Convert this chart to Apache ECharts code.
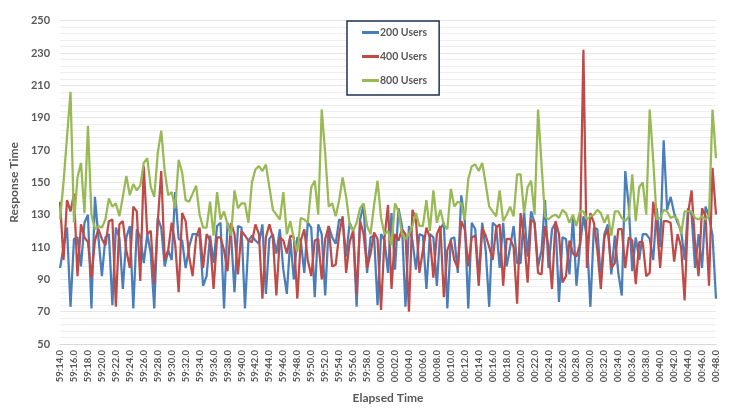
<!DOCTYPE html>
<html>
<head>
<meta charset="utf-8">
<script src="https://cdn.jsdelivr.net/npm/echarts@6/dist/echarts.min.js"></script>
<style>
  html, body { margin: 0; padding: 0; background: #fff; }
  #chart { width: 736px; height: 412px; }
</style>
</head>
<body>
<div id="chart"></div>
<script>
// Category timestamps: one sample every 0.5 s from 59:14.0 to 00:48.0
const startSeconds = 59 * 60 + 14;
const sampleCount = 189;
const categories = [];
for (let i = 0; i < sampleCount; i++) {
  const t = (startSeconds + i * 0.5) % 3600;
  const m = Math.floor(t / 60);
  const s = t - m * 60;
  categories.push(String(m).padStart(2, '0') + ':' + (s < 10 ? '0' : '') + s.toFixed(1));
}

const seriesNames = ['200 Users', '400 Users', '800 Users'];

const users200 = [
  97, 110, 122, 73, 115, 116, 98, 125, 130, 72,
  141, 116, 92, 116, 118, 74, 122, 116, 84, 116,
  123, 72, 121, 116, 100, 118, 106, 72, 128, 122,
  98, 108, 102, 144, 115, 114, 97, 110,
  118, 118, 117, 86, 92, 117, 100, 123, 125, 72,
  125, 118, 82, 123, 122, 72, 114, 117, 114, 112,
  124, 81, 115, 118, 106, 121, 96, 81, 115, 90,
  116, 114, 94, 125, 122, 79, 124,
  118, 80, 123, 116, 112, 127, 126, 104, 125, 120,
  73, 127, 136, 94, 116, 117, 74, 118, 114, 94,
  131, 96, 134, 123, 73, 123, 114, 96, 118, 117,
  84, 118, 116, 86, 121, 125, 72,
  115, 116, 94, 142, 126, 72, 125, 121, 91, 125,
  108, 73, 125, 123, 97, 125, 98, 110, 123, 100,
  100, 132, 104, 132, 125, 98, 108, 139, 97, 121,
  125, 76, 116, 115, 93, 129,
  86, 110, 129, 116, 73,
  122, 121, 90, 118, 124, 93, 117, 94, 80, 157,
  135, 95, 116, 102, 118, 118, 115, 102, 134, 110,
  176, 133, 141, 131, 125, 120, 102, 134, 130, 97,
  118, 97, 135, 129, 117, 78
];

const users400 = [
  138, 102, 139, 132, 143, 92, 124, 116, 113, 91,
  114, 121, 115, 111, 126, 127, 73, 124, 126, 108,
  97, 135, 132, 89, 160, 118, 120, 87, 125, 157,
  102, 108, 125, 112, 82, 131, 126, 104,
  92, 116, 122, 97, 118, 114, 84, 116, 116, 108,
  95, 125, 118, 93, 120, 117, 114, 113, 124, 118,
  78, 116, 124, 116, 80, 116, 114, 106, 117, 116,
  78, 114, 121, 102, 92, 114, 115,
  90, 115, 123, 98, 99, 118, 129, 94, 113, 120,
  81, 126, 118, 97, 106, 119, 115, 71, 116, 136,
  84, 118, 114, 121, 118, 70, 133, 127, 94, 108,
  122, 116, 91, 118, 123, 79, 108,
  114, 102, 97, 126, 121, 98, 116, 117, 86, 122,
  117, 110, 102, 122, 124, 86, 115, 115, 110, 75,
  131, 116, 88, 127, 125, 94, 93, 123, 110, 84,
  126, 118, 88, 92, 114, 106,
  104, 112, 232, 97, 131,
  125, 108, 84, 116, 121, 97, 100, 121, 121, 97,
  116, 114, 87, 113, 113, 92, 94, 138, 125, 97,
  126, 126, 125, 101, 118, 110, 77, 131, 145, 112,
  92, 134, 129, 86, 159, 130
];

const users800 = [
  127, 150, 178, 206, 125, 153, 162, 131, 185, 130,
  121, 123, 122, 127, 140, 135, 137, 129, 141, 154,
  142, 149, 145, 148, 162, 165, 147, 141, 168, 182,
  157, 142, 144, 134, 164, 156, 139, 138,
  143, 148, 130, 122, 122, 138, 117, 144, 127, 132,
  124, 117, 145, 134, 137, 137, 125, 150, 158, 160,
  157, 161, 147, 133, 130, 127, 144, 118, 126, 115,
  107, 128, 127, 125, 147, 151, 130,
  195, 168, 135, 137, 129, 139, 153, 141, 124, 120,
  125, 134, 137, 123, 118, 136, 151, 128, 118, 120,
  111, 137, 132, 118, 115, 118, 123, 131, 123, 123,
  139, 120, 145, 125, 133, 124, 121,
  146, 135, 138, 137, 127, 152, 160, 161, 157, 162,
  149, 135, 132, 129, 145, 126, 130, 135, 129, 155,
  155, 131, 147, 151, 130, 195, 161, 129, 127, 129,
  130, 128, 133, 131, 125, 130,
  123, 132, 132, 127, 129,
  130, 133, 131, 125, 130, 117, 132, 132, 128, 126,
  129, 155, 126, 147, 150, 130, 195, 164, 127, 128,
  133, 132, 128, 129, 127, 118, 132, 132, 132, 128,
  127, 129, 127, 129, 195, 165
];

const colors = ['#4A7EBB', '#BE4B48', '#98B954'];
const font = 'Lato, "Open Sans", "Liberation Sans", sans-serif';
const textColor = '#595959';

const chart = echarts.init(document.getElementById('chart'), null, { renderer: 'canvas' });
const seriesData = [users200, users400, users800];

chart.setOption({
  animation: false,
  backgroundColor: '#ffffff',
  color: colors,
  grid: { left: 53, right: 20, top: 20.7, bottom: 68 },
  legend: {
    orient: 'vertical',
    left: 347,
    top: 21,
    width: 91,
    padding: [6, 12, 9, 15],
    itemGap: 13,
    itemWidth: 17,
    itemHeight: 3,
    icon: 'rect',
    borderColor: '#1F3251',
    borderWidth: 1.5,
    backgroundColor: '#ffffff',
    textStyle: { fontFamily: font, fontSize: 10.5, fontWeight: 'bold', color: textColor, padding: [0, 0, 0, -4] },
    data: seriesNames
  },
  xAxis: {
    type: 'category',
    data: categories,
    boundaryGap: false,
    name: 'Elapsed Time',
    nameLocation: 'middle',
    nameGap: 48,
    nameTextStyle: { fontFamily: font, fontSize: 12, fontWeight: 'bold', color: textColor },
    axisLine: { show: true, lineStyle: { color: '#d9d9d9', width: 1 } },
    axisTick: { show: false },
    axisLabel: {
      interval: 3,
      rotate: 90,
      margin: 6,
      fontFamily: font,
      fontSize: 9.5,
      fontWeight: 'bold',
      color: textColor
    },
    splitLine: { show: false }
  },
  yAxis: {
    type: 'value',
    min: 50,
    max: 250,
    interval: 20,
    name: 'Response Time',
    nameLocation: 'middle',
    nameRotate: 90,
    nameGap: 34,
    nameTextStyle: { fontFamily: font, fontSize: 12, fontWeight: 'bold', color: textColor },
    axisLine: { show: false },
    axisTick: { show: false },
    axisLabel: { margin: 10, fontFamily: font, fontSize: 11, fontWeight: 'bold', color: textColor },
    splitLine: { show: true, lineStyle: { color: '#e6e6e6', width: 1 } },
    minorTick: { show: false, splitNumber: 5 },
    minorSplitLine: { show: true, lineStyle: { color: '#eeeeee', width: 1 } }
  },
  series: seriesNames.map((name, k) => ({
    name: name,
    type: 'line',
    data: seriesData[k],
    showSymbol: false,
    symbol: 'none',
    smooth: false,
    lineStyle: { width: 2.25, color: colors[k] },
    emphasis: { disabled: true }
  }))
});
</script>
</body>
</html>
